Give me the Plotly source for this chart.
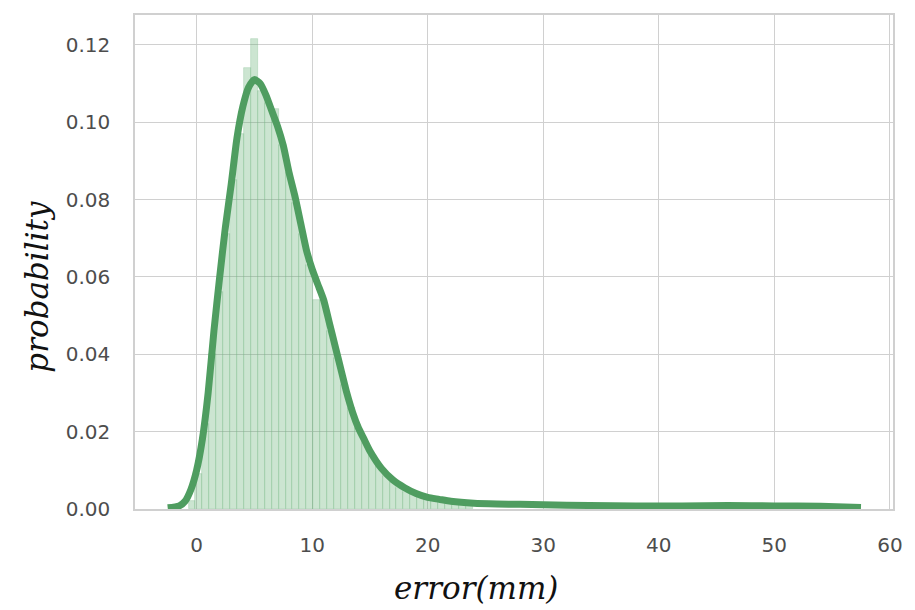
import plotly.graph_objects as go

# Histogram (density): bin centres and heights, bin width 0.6
bin_centers = [-0.4, 0.2, 0.8, 1.4, 2.0, 2.6, 3.2, 3.8, 4.4, 5.0, 5.6, 6.2, 6.8, 7.4, 8.0,
               8.6, 9.2, 9.8, 10.4, 11.0, 11.6, 12.2, 12.8, 13.4, 14.0, 14.6, 15.2, 15.8,
               16.4, 17.0, 17.6, 18.2, 18.8, 19.4, 20.0, 20.6, 21.2, 21.8, 22.4, 23.0, 23.6]
bin_heights = [0.002, 0.009, 0.022, 0.040, 0.056, 0.071, 0.085, 0.097, 0.114, 0.1215, 0.108,
               0.105, 0.1035, 0.094, 0.087, 0.079, 0.071, 0.063, 0.054, 0.054, 0.046, 0.039,
               0.032, 0.026, 0.021, 0.017, 0.014, 0.011, 0.0085, 0.007, 0.0055, 0.0045, 0.0038,
               0.0032, 0.0028, 0.0024, 0.002, 0.0018, 0.0015, 0.0014, 0.0012]
bin_width = 0.6

# KDE curve
kde_x = [-2.5, -1.5, -1.0, -0.5, 0.0, 0.5, 1.0, 1.5, 2.0, 2.5, 3.0, 3.5, 4.0, 4.5, 5.0, 5.5,
         6.0, 6.5, 7.0, 7.5, 8.0, 8.5, 9.0, 9.5, 10.0, 10.5, 11.0, 11.5, 12.0, 12.5, 13.0,
         13.5, 14.0, 14.5, 15.0, 16.0, 17.0, 18.0, 19.0, 20.0, 21.0, 22.0, 24.0, 26.0, 28.0,
         30.0, 34.0, 38.0, 42.0, 46.0, 50.0, 54.0, 57.5]
kde_y = [0.0003, 0.0008, 0.002, 0.005, 0.010, 0.018, 0.030, 0.046, 0.060, 0.073, 0.084, 0.096,
         0.104, 0.109, 0.111, 0.110, 0.107, 0.103, 0.099, 0.094, 0.087, 0.081, 0.074, 0.067,
         0.062, 0.058, 0.054, 0.048, 0.042, 0.036, 0.030, 0.025, 0.021, 0.018, 0.015, 0.0105,
         0.0075, 0.0055, 0.004, 0.003, 0.0025, 0.002, 0.0015, 0.0013, 0.0012, 0.0011, 0.0009,
         0.0008, 0.0008, 0.0009, 0.0008, 0.0007, 0.0004]

x_ticks = [0, 10, 20, 30, 40, 50, 60]
y_ticks = [0.00, 0.02, 0.04, 0.06, 0.08, 0.10, 0.12]
y_tick_labels = ["0.00", "0.02", "0.04", "0.06", "0.08", "0.10", "0.12"]
x_title = "error(mm)"
y_title = "probability"

fig = go.Figure()
fig.add_trace(go.Bar(
    x=bin_centers, y=bin_heights, width=[bin_width] * len(bin_centers),
    marker=dict(color="rgba(85,168,104,0.30)",
                line=dict(color="rgba(120,185,135,0.45)", width=0.7)),
    showlegend=False, hoverinfo="skip"))
fig.add_trace(go.Scatter(
    x=kde_x, y=kde_y, mode="lines",
    line=dict(color="#4f9d60", width=7, shape="spline", smoothing=0.6),
    showlegend=False))

title_font = dict(family="DejaVu Serif", size=31, color="#111111", style="italic")
fig.add_annotation(text=x_title, xref="paper", yref="paper", x=-0.05, y=-0.16,
                   xanchor="center", yanchor="middle", showarrow=False, font=title_font)
fig.add_annotation(text=y_title, xref="paper", yref="paper", x=-0.175, y=0.45,
                   xanchor="center", yanchor="middle", showarrow=False, textangle=-90,
                   font=title_font)
# position the x title by data-like paper fraction: centre at ~478 px
fig.layout.annotations[0].x = (478 - 135) / (898 - 135)
fig.layout.annotations[0].y = -(588 - 509) / (509 - 15)
fig.layout.annotations[1].x = -(135 - 36) / (898 - 135)
fig.layout.annotations[1].y = (509 - 287) / (509 - 15)

fig.update_layout(
    width=915, height=610,
    margin=dict(l=135, r=17, t=15, b=101),
    paper_bgcolor="white", plot_bgcolor="white",
    bargap=0,
    font=dict(family="DejaVu Sans", color="#4d4d4d", size=20),
    xaxis=dict(
        range=[-5.33, 60.27], tickvals=x_ticks, ticktext=[str(v) for v in x_ticks],
        showgrid=True, gridcolor="#d0d0d0", gridwidth=1.4,
        showline=True, linecolor="#d0d0d0", linewidth=1.6, mirror=True,
        ticks="outside", ticklen=17, tickcolor="rgba(0,0,0,0)",
        zeroline=False,
    ),
    yaxis=dict(
        range=[0, 0.1277], tickvals=y_ticks, ticktext=y_tick_labels,
        showgrid=True, gridcolor="#d0d0d0", gridwidth=1.4,
        showline=True, linecolor="#d0d0d0", linewidth=1.6, mirror=True,
        ticks="outside", ticklen=19, tickcolor="rgba(0,0,0,0)",
        zeroline=False,
    ),
)

fig.write_html("out.html")
